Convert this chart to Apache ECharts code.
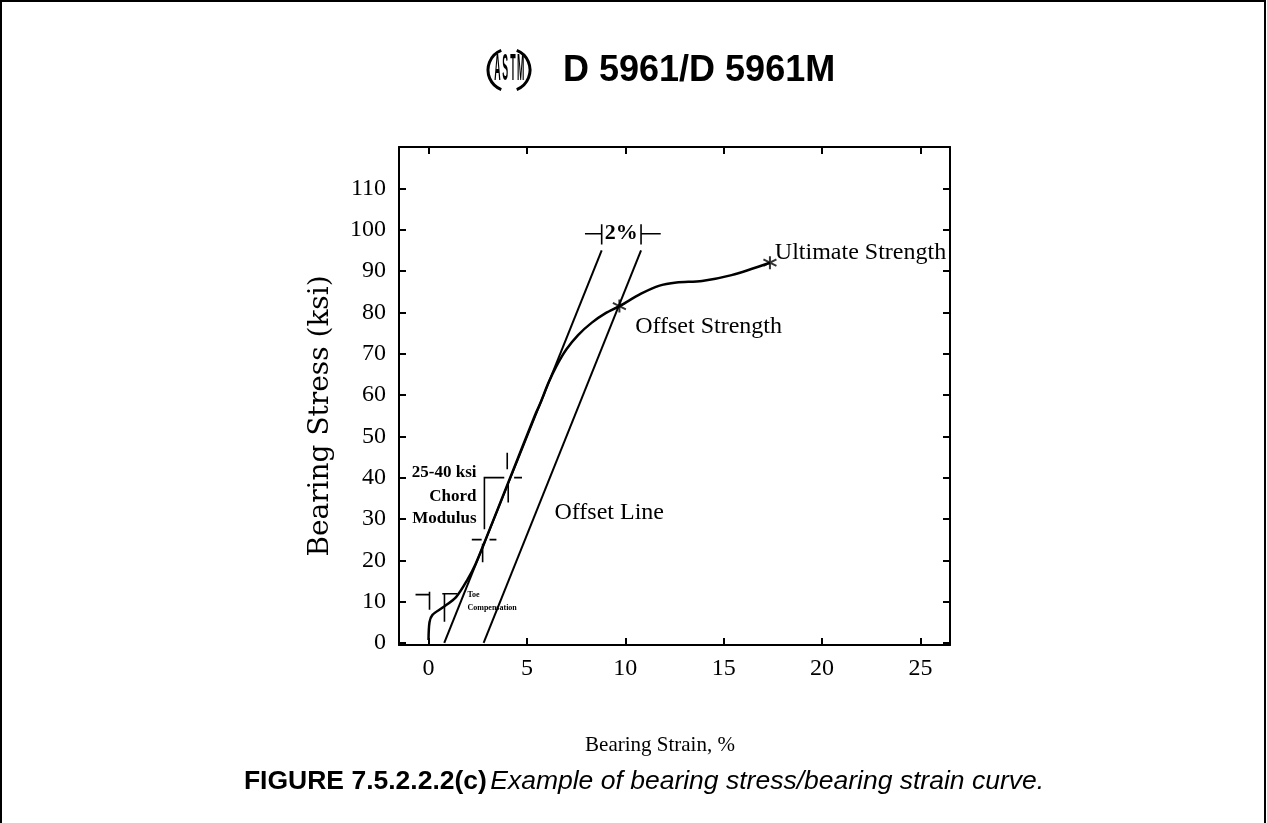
<!DOCTYPE html>
<html>
<head>
<meta charset="utf-8">
<script src="https://cdn.jsdelivr.net/npm/echarts@6/dist/echarts.min.js"></script>
<style>
  html, body { margin: 0; padding: 0; background: #fff; }
  #chart { width: 1267px; height: 823px; }
</style>
</head>
<body>
<div id="chart"></div>
<script>
// Axis tick values
const strainTicks = [0, 5, 10, 15, 20, 25];
const stressTicks = [0, 10, 20, 30, 40, 50, 60, 70, 80, 90, 100, 110];

// Bearing stress / bearing strain curve (strain %, stress ksi)
const curveStrain = [0, 0.05, 0.2, 0.7, 1.4, 2.0, 2.38, 2.9, 4.15, 5.4, 5.68, 6.1, 6.5, 7.0, 7.6, 8.3, 9.0, 9.7, 10.8, 11.7, 12.6, 13.9, 15.4, 17.35];
const curveStress = [0.7, 5, 6.8, 8.5, 11.1, 15.5, 19, 25, 40, 55, 58, 63, 67, 71, 74.5, 77.5, 79.8, 81.5, 84.5, 86.4, 87.2, 87.6, 89, 92];

// Chord modulus line and the 2 % offset line
const chordStrain = [0.8, 8.8];
const chordStress = [0, 95];
const offsetStrain = [2.8, 10.8];
const offsetStress = [0, 95];

// Offset strength and ultimate strength points
const strengthStrain = [9.7, 17.35];
const strengthStress = [81.5, 92];

// Dimension marks (each a polyline in strain/stress units)
const markLines = [
  [[8.8, 96.4], [8.8, 101.3]],
  [[10.8, 96.4], [10.8, 101.3]],
  [[7.95, 99], [8.8, 99]],
  [[10.8, 99], [11.8, 99]],
  [[2.84, 27.5], [2.84, 40], [3.85, 40]],
  [[4.35, 40], [4.75, 40]],
  [[4.0, 42], [4.0, 46]],
  [[4.05, 34], [4.05, 38.5]],
  [[2.2, 25], [2.7, 25]],
  [[3.1, 25], [3.45, 25]],
  [[2.75, 24], [2.75, 19.5]],
  [[-0.66, 11.7], [0.05, 11.7]],
  [[0.05, 12.4], [0.05, 8]],
  [[0.7, 11.9], [1.47, 11.9]],
  [[0.81, 11.9], [0.81, 5.1]]
];

// Text notes: [strain, stress, text, kind]
const notes = [
  [9.8, 99, '2%', 'pct'],
  [17.6, 94.5, 'Ultimate Strength', 'big'],
  [10.5, 76.6, 'Offset Strength', 'big'],
  [6.4, 31.5, 'Offset Line', 'big'],
  [2.44, 41.2, '25-40 ksi', 'chord'],
  [2.44, 35.4, 'Chord', 'chord'],
  [2.44, 30.0, 'Modulus', 'chord'],
  [1.98, 11.6, 'Toe', 'toe'],
  [1.98, 8.5, 'Compensation', 'toe']
];

const SERIF = 'Liberation Serif';
const SANS = 'Liberation Sans';

const zip = (a, b) => a.map((v, i) => [v, b[i]]);

const chart = echarts.init(document.getElementById('chart'), null, { renderer: 'canvas' });

const tickStyle = { color: '#000', width: 2 };
const baseX = {
  type: 'value', min: -1.5, max: 26.5,
  axisLine: { show: true, onZero: false, lineStyle: { color: '#000', width: 2 } },
  splitLine: { show: false }
};
const baseY = {
  type: 'value', min: -0.5, max: 120,
  axisLine: { show: true, onZero: false, lineStyle: { color: '#000', width: 2 } },
  splitLine: { show: false }
};

// Asterisk marker
const starPath = 'path://M10,0 L10,20 M1.34,5 L18.66,15 M1.34,15 L18.66,5';

chart.setOption({
  animation: false,
  backgroundColor: '#fff',
  grid: { left: 399, right: 317, top: 147, bottom: 178, containLabel: false },
  xAxis: [
    Object.assign({}, baseX, {
      position: 'bottom',
      axisTick: { show: true, inside: true, length: 7, customValues: strainTicks, lineStyle: tickStyle },
      axisLabel: { show: true, customValues: strainTicks, fontFamily: SERIF, fontSize: 24, color: '#000', margin: 12 }
    }),
    Object.assign({}, baseX, {
      position: 'top',
      axisTick: { show: true, inside: true, length: 7, customValues: strainTicks, lineStyle: tickStyle },
      axisLabel: { show: false }
    })
  ],
  yAxis: [
    Object.assign({}, baseY, {
      position: 'left',
      axisTick: { show: true, inside: true, length: 7, customValues: stressTicks, lineStyle: tickStyle },
      axisLabel: { show: true, customValues: stressTicks, fontFamily: SERIF, fontSize: 24, color: '#000', margin: 13 }
    }),
    Object.assign({}, baseY, {
      position: 'right',
      axisTick: { show: true, inside: true, length: 7, customValues: stressTicks, lineStyle: tickStyle },
      axisLabel: { show: false }
    })
  ],
  series: [
    {
      type: 'line', name: 'curve', data: zip(curveStrain, curveStress),
      showSymbol: false, smooth: 0.3, silent: true,
      lineStyle: { color: '#000', width: 2.5 }
    },
    {
      type: 'line', name: 'chord', data: zip(chordStrain, chordStress),
      showSymbol: false, silent: true, lineStyle: { color: '#000', width: 2 }
    },
    {
      type: 'line', name: 'offset', data: zip(offsetStrain, offsetStress),
      showSymbol: false, silent: true, lineStyle: { color: '#000', width: 2 }
    },
    {
      type: 'lines', coordinateSystem: 'cartesian2d', polyline: true, silent: true,
      lineStyle: { color: '#000', width: 1.6, opacity: 1 },
      data: markLines.map(c => ({ coords: c }))
    },
    {
      type: 'scatter', name: 'strength', data: zip(strengthStrain, strengthStress),
      symbol: starPath, symbolSize: 13, silent: true, z: 5,
      itemStyle: { color: 'none', borderColor: '#000', borderWidth: 2 }
    }
  ]
});

const noteStyles = {
  pct:   { font: 'bold 22px "' + SERIF + '"', align: 'center' },
  big:   { font: '24px "' + SERIF + '"', align: 'left' },
  chord: { font: 'bold 17px "' + SERIF + '"', align: 'right' },
  toe:   { font: 'bold 8px "' + SERIF + '"', align: 'left' }
};

const noteGraphics = notes.map(n => {
  const p = chart.convertToPixel({ gridIndex: 0 }, [n[0], n[1]]);
  const s = noteStyles[n[3]];
  return {
    type: 'text', x: p[0], y: p[1], silent: true,
    style: { text: n[2], font: s.font, fill: '#000', align: s.align, verticalAlign: 'middle' }
  };
});

// ASTM mark
const logo = {
  type: 'group', x: 509, y: 70, silent: true,
  children: [
    { type: 'arc', shape: { cx: 0, cy: 0, r: 21, startAngle: Math.PI * 0.62, endAngle: Math.PI * 1.38 },
      style: { stroke: '#000', lineWidth: 3, fill: 'none' } },
    { type: 'arc', shape: { cx: 0, cy: 0, r: 21, startAngle: -Math.PI * 0.38, endAngle: Math.PI * 0.38 },
      style: { stroke: '#000', lineWidth: 3, fill: 'none' } }
  ].concat(['A', 'S', 'T', 'M'].map((ch, i) => ({
    type: 'text', x: -11.5 + i * 7.7, y: 0, scaleX: 0.42, scaleY: 1.75,
    style: { text: ch, font: 'bold 21px "' + SANS + '"', fill: '#000', align: 'center', verticalAlign: 'middle' }
  })))
};

chart.setOption({
  graphic: [
    // page frame
    { type: 'polyline', silent: true, shape: { points: [[1, 823], [1, 1], [1265, 1], [1265, 823]] },
      style: { stroke: '#000', lineWidth: 2, fill: 'none' } },
    logo,
    { type: 'text', x: 563, y: 71, silent: true,
      style: { text: 'D 5961/D 5961M', font: 'bold 36px "' + SANS + '"', fill: '#000', align: 'left', verticalAlign: 'middle' } },
    { type: 'text', x: 321, y: 416, rotation: Math.PI / 2, silent: true,
      style: { text: 'Bearing Stress (ksi)', font: '28px "DejaVu Serif"', fill: '#000', align: 'center', verticalAlign: 'middle' } },
    { type: 'text', x: 660, y: 745, silent: true,
      style: { text: 'Bearing Strain, %', font: '21px "' + SERIF + '"', fill: '#000', align: 'center', verticalAlign: 'middle' } },
    { type: 'text', x: 644, y: 782, silent: true,
      style: {
        text: '{b|FIGURE 7.5.2.2.2(c)} {i|Example of bearing stress/bearing strain curve.}',
        align: 'center', verticalAlign: 'middle', fill: '#000',
        rich: {
          b: { fontFamily: SANS, fontWeight: 'bold', fontSize: 26.5, fill: '#000' },
          i: { fontFamily: SANS, fontStyle: 'italic', fontSize: 26.5, fill: '#000' }
        }
      } }
  ].concat(noteGraphics)
});
</script>
</body>
</html>
